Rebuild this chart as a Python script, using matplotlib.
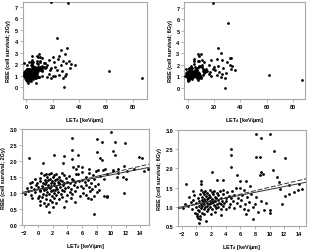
import matplotlib
matplotlib.use("Agg")
import matplotlib.pyplot as plt
import numpy as np

plt.rcParams['font.family'] = ['Liberation Sans', 'DejaVu Sans']
plt.rcParams['mathtext.fontset'] = 'custom'
plt.rcParams['mathtext.bf'] = 'Liberation Sans:bold'

# --- 2 Gy: LETd [keV/um] and RBE ---
let_2gy = [
    # dense cluster
    0.4, 0.8, 1.0, 1.2, 1.5, 1.8, 2.2, 2.5, 2.8, 3.2, 3.5, -0.5, 0.2, 1.6, 2.0, 2.6, 3.0, 3.8, 4.2, 4.6, 5.2, 5.5,
    -1.2, -0.8, -0.2, 0.3, 0.6, 0.9, 1.1, 1.3, 1.7, 1.9, 2.1, 2.3, 2.7, 2.9, 3.3, 3.6, 4.0, 4.4, 4.8, 5.0, 5.6, 6.0, 6.4, 6.8, 7.2, 7.6,
    -1.6, -1.0, -0.6, -0.3, 0.0, 0.2, 0.5, 0.7, 0.9, 1.1, 1.3, 1.4, 1.6, 1.8, 2.0, 2.2, 2.4, 2.6, 2.8, 3.0, 3.2, 3.4, 3.7, 4.1, 4.5, 4.9, 5.3, 5.8, 6.2, 6.6, 7.0, 7.4, 7.8, 8.2,
    -1.8, -1.4, -1.0, -0.4, 0.1, 0.3, 0.6, 0.8, 1.0, 1.2, 1.5, 1.7, 1.9, 2.1, 2.3, 2.5, 2.7, 3.1, 3.5, 3.9, 4.3, 4.7, 5.1, 5.7, 6.1, 6.5, 7.1, 7.7, 8.0, 8.3, 9.0, 9.4,
    0.0, 0.3, 0.5, 0.8, 1.0, 1.3, 1.6, 1.9, 2.2, 2.5, 2.9, 3.3, 3.8, 4.5, 5.0, 6.8, 7.3, -0.8, 0.2, 1.0,
    5.2, 6.0, 6.5, 7.0, 7.5, 8.5, 9.5, 10.2, 11.0, 12.2, 13.2, 14.5, 12.0, 10.8, 9.0,
    # outliers below 15
    10.0, 4.7, 8.0, 8.8, 10.5, 11.9, 4.7, 5.4, 8.0, 10.3, 10.6, 2.2, -1.3, 3.5, 4.7, 8.5, 8.75, 13.8,
    3.4, 0.6, 4.8, 5.5, 6.0, 6.9, 7.9, 8.2, 8.9, 9.1, 10.3, 10.9, 11.8, 14.2, 15.0, 11.7, 11.8, 7.7, 9.5, 3.6, 1.5, 2.0,
    # beyond 15
    18.8, 31.3, 23, 31, 26.5, 29, 25, 20, 24, 17, 21, 28, 32, 30, 34, 37, 33, 26, 22, 19, 16, 18, 23, 27,
    30, 25, 20, 17, 29, 28, 28.5, 62, 87, 16, 18.5, 22,
]
rbe_2gy = [
    1.62, 1.55, 1.6, 1.5, 1.58, 1.62, 1.55, 1.6, 1.5, 1.62, 1.55, 1.45, 1.48, 1.45, 1.5, 1.45, 1.42, 1.48, 1.52, 1.45, 1.6, 1.58,
    1.3, 1.35, 1.32, 1.38, 1.3, 1.4, 1.35, 1.42, 1.3, 1.38, 1.32, 1.4, 1.35, 1.3, 1.38, 1.32, 1.35, 1.3, 1.4, 1.33, 1.38, 1.42, 1.35, 1.4, 1.3, 1.45,
    1.15, 1.2, 1.12, 1.25, 1.18, 1.1, 1.22, 1.15, 1.28, 1.12, 1.2, 1.26, 1.15, 1.22, 1.1, 1.25, 1.18, 1.12, 1.27, 1.2, 1.1, 1.24, 1.15, 1.2, 1.12, 1.25, 1.18, 1.22, 1.15, 1.25, 1.2, 1.12, 1.22, 1.28,
    0.98, 1.05, 0.95, 1.02, 0.92, 1.05, 0.98, 1.08, 0.94, 1.03, 0.96, 1.07, 0.92, 1.0, 1.08, 0.95, 1.04, 0.98, 1.06, 0.94, 1.02, 0.96, 1.05, 0.92, 1.0, 0.95, 1.05, 0.9, 1.02, 1.08, 0.92, 0.88,
    0.85, 0.75, 0.88, 0.7, 0.82, 0.65, 0.78, 0.72, 0.85, 0.68, 0.8, 0.88, 0.75, 0.85, 0.72, 0.85, 0.82, 0.85, 0.62, 0.58,
    1.75, 1.65, 1.5, 1.62, 1.55, 1.52, 1.6, 1.68, 1.62, 1.68, 1.75, 1.7, 1.45, 1.5, 1.45,
    2.9, 2.72, 2.7, 2.6, 2.6, 2.57, 2.35, 2.2, 2.27, 2.3, 2.2, 2.2, 2.1, 2.17, 2.06, 2.1, 2.04, 2.12,
    1.93, 1.93, 1.8, 1.83, 1.8, 1.74, 1.7, 1.72, 1.73, 1.75, 1.73, 1.75, 1.85, 2.1, 1.75, 1.5, 1.0, 0.34, 0.9, 0.55, 0.41, 0.55,
    7.4, 7.3, 4.25, 3.45, 3.25, 2.9, 2.75, 2.6, 2.5, 2.4, 2.2, 2.3, 2.3, 2.1, 2.0, 1.9, 1.7, 1.9, 1.8, 1.7, 1.9, 1.5, 1.5, 1.4,
    1.2, 1.1, 1.0, 1.2, 1.0, 0.8, 0.0, 1.45, 0.85, 0.9, 0.85, 1.0,
]

# --- 6 Gy: LETd [keV/um] and RBE ---
let_6gy = [
    -0.5, 0.6, 0.9, 1.2, 1.5, 1.8, 2.1, 2.4, 2.8, 3.2, 3.6, 4.2, 4.9, 5.4, 6.0, 6.5, 7.3,
    -1.0, -0.3, 0.2, 0.5, 0.8, 1.0, 1.1, 1.3, 1.6, 1.7, 1.9, 2.2, 2.3, 2.5, 2.7, 3.0, 3.3, 3.7, 4.0, 4.4, 4.8, 5.2, 5.7, 6.3, 6.9, 7.5, 8.2,
    -1.5, -0.8, -0.4, 0.0, 0.3, 0.6, 0.7, 0.9, 1.1, 1.2, 1.4, 1.5, 1.7, 1.8, 2.0, 2.1, 2.3, 2.4, 2.6, 2.8, 2.9, 3.1, 3.4, 3.5, 3.8, 4.1, 4.6, 5.0, 5.5, 6.1, 6.7, 7.2, 8.0, 8.8, 9.5,
    -1.8, -1.2, -0.6, -0.1, 0.2, 0.4, 0.6, 0.8, 1.0, 1.2, 1.4, 1.6, 1.9, 2.2, 2.5, 2.7, 3.0, 3.3, 3.6, 4.0, 4.5, 5.1, 6.0, 6.5,
    -0.2, 0.1, 0.3, 0.5, 0.8, 1.1, 1.5, 2.0, 2.6, 3.4, 0.2, 0.5,
    # outliers below 15
    8.1, 10.1, 8.9, 4.8, 4.7, 10.6, 12.1, 8.1, 8.65, 4.7, 2.2, 10.5, 5.5, 8.9, 9.1, 8.75,
    2.8, 3.6, 5.9, 6.8, 11.0, 11.3, 12.6, 14.0, -1.4, 0.6, 0.6,
    7.7, 0.3, 1.3, 0.1, 6.75, 7.1, 7.8, 8.4, 9.3, 10.0, 10.0, 11.7, 12.1, 12.7, 13.3, 13.9, 14.5, 11.4,
    # beyond 15
    19, 31, 23, 25.5, 17.5, 22, 26, 32, 33, 30, 32, 34, 36, 33, 29, 28, 28, 62, 87,
    24, 21, 19, 17, 16, 18, 22, 26, 20, 23, 27, 16, 25,
]
rbe_6gy = [
    1.4, 1.45, 1.38, 1.42, 1.36, 1.44, 1.38, 1.42, 1.36, 1.4, 1.45, 1.38, 1.42, 1.5, 1.48, 1.45, 1.55,
    1.25, 1.3, 1.22, 1.32, 1.26, 1.2, 1.33, 1.27, 1.22, 1.31, 1.25, 1.2, 1.32, 1.26, 1.22, 1.3, 1.24, 1.32, 1.22, 1.28, 1.24, 1.3, 1.22, 1.3, 1.26, 1.32, 1.25,
    1.08, 1.12, 1.18, 1.1, 1.15, 1.06, 1.18, 1.12, 1.08, 1.16, 1.1, 1.19, 1.06, 1.14, 1.09, 1.17, 1.12, 1.05, 1.15, 1.08, 1.18, 1.11, 1.06, 1.16, 1.1, 1.15, 1.08, 1.14, 1.1, 1.17, 1.08, 1.12, 1.06, 1.15, 1.1,
    0.98, 1.02, 0.95, 1.0, 0.92, 1.03, 0.97, 1.01, 0.93, 0.99, 1.03, 0.95, 1.0, 0.94, 1.02, 0.96, 1.0, 0.93, 1.01, 0.95, 1.0, 0.97, 1.02, 0.95,
    0.85, 0.8, 0.88, 0.76, 0.84, 0.82, 0.88, 0.8, 0.86, 0.78, 0.72, 0.68,
    2.9, 2.9, 2.78, 2.5, 2.35, 2.45, 2.27, 2.31, 2.3, 2.03, 1.9, 1.97, 1.84, 1.9, 1.86, 1.82,
    1.7, 1.7, 1.68, 1.68, 1.77, 1.64, 1.58, 1.6, 1.6, 1.68, 1.6,
    0.68, 0.58, 0.63, 0.75, 0.8, 0.92, 0.99, 0.86, 0.92, 0.83, 0.92, 1.06, 1.27, 1.34, 1.38, 1.44, 1.47, 1.47,
    7.4, 5.65, 3.5, 3.0, 2.4, 2.5, 2.4, 2.6, 2.55, 2.2, 2.0, 1.9, 1.5, 1.6, 1.3, 0.8, 0.0, 1.1, 0.7,
    1.4, 1.5, 1.6, 1.4, 1.2, 1.0, 1.1, 1.2, 1.8, 1.9, 1.7, 2.0, 0.9,
]

# regression lines (intercept, slope) for the zoomed panels
fit_2gy_solid = (1.119, 0.0448)
fit_2gy_dashed = (1.096, 0.0529)
fit_6gy_solid = (1.074, 0.0377)
fit_6gy_dashed = (1.061, 0.0446)

xlabel = r'LET$_\mathbf{d}$ [keV/μm]'
fig = plt.figure(figsize=(3.13, 2.53), dpi=100)


def style(ax, ylabel):
    for s in ax.spines.values():
        s.set_color('#a8a8a8')
        s.set_linewidth(0.8)
    ax.tick_params(length=2, width=0.6, color='#a8a8a8', labelsize=4.0, pad=1.5)
    for lab in ax.get_xticklabels() + ax.get_yticklabels():
        lab.set_fontweight('bold')
    ax.set_xlabel(xlabel, fontsize=4.0, fontweight='bold', labelpad=4.5)
    ax.set_ylabel(ylabel, fontsize=4.0, fontweight='bold', labelpad=2.5)


panels = [
    ([0.0725, 0.605, 0.396, 0.383], let_2gy, rbe_2gy, '2Gy', (-2.5, 90.5), (-1, 7.4), None),
    ([0.589, 0.605, 0.386, 0.383], let_6gy, rbe_6gy, '6Gy', (-2.6, 89.4), (-1, 7.5), None),
    ([0.071, 0.107, 0.405, 0.379], let_2gy, rbe_2gy, '2Gy', (-2.2, 15.2), (0, 3.0), (fit_2gy_solid, fit_2gy_dashed)),
    ([0.569, 0.103, 0.409, 0.379], let_6gy, rbe_6gy, '6Gy', (-2.5, 15.0), (0.5, 3.0), (fit_6gy_solid, fit_6gy_dashed)),
]

for rect, x, y, dose, xl, yl, fits in panels:
    ax = fig.add_axes(rect)
    ax.scatter(x, y, s=4, c='black', linewidths=0, zorder=3)
    if fits is None:
        ax.set_xticks([0, 20, 40, 60, 80])
        ax.set_yticks(range(0, 8))
    else:
        ax.set_xticks(range(-2, 16, 2))
        ax.set_yticks(np.arange(yl[0], 3.01, 0.5))
        ax.yaxis.set_major_formatter(matplotlib.ticker.FormatStrFormatter('%.1f'))
        xs = np.array(xl)
        (a1, b1), (a2, b2) = fits
        ax.plot(xs, a1 + b1 * xs, color='#333333', lw=0.7, zorder=4)
        ax.plot(xs, a2 + b2 * xs, color='#333333', lw=0.7, ls=(0, (5, 2)), zorder=4)
    ax.set_xlim(*xl)
    ax.set_ylim(*yl)
    style(ax, f'RBE (cell survival; {dose})')

fig.savefig('out.png', dpi=100)
